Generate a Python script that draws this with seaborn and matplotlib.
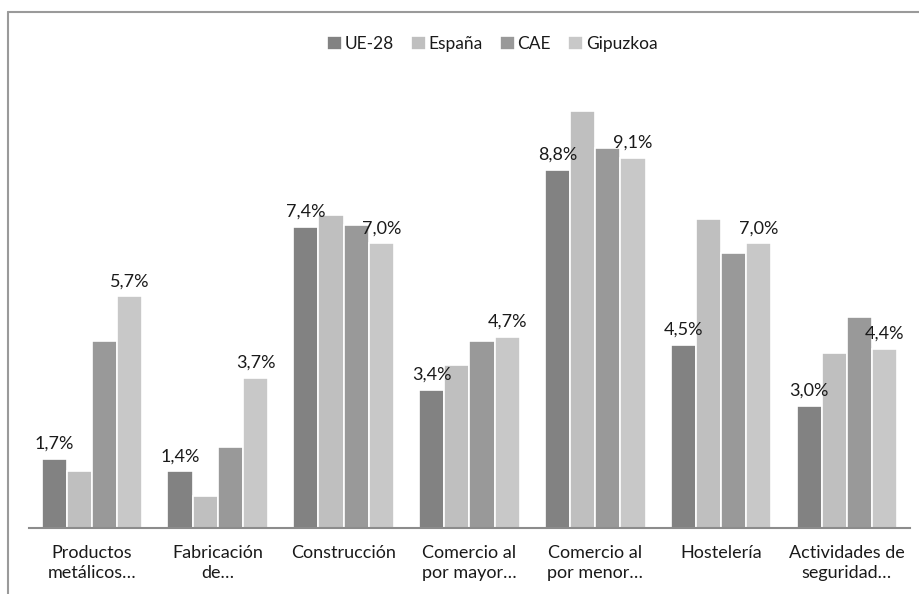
import pandas as pd
import numpy as np
import matplotlib
matplotlib.use('Agg')
import matplotlib.pyplot as plt
from matplotlib.lines import Line2D
import seaborn as sns

# datos (en %)
sectores = ['Productos\nmetálicos…', 'Fabricación\nde…', 'Construcción', 'Comercio al\npor mayor…',
            'Comercio al\npor menor…', 'Hostelería', 'Actividades de\nseguridad…']
series = ['UE-28', 'España', 'CAE', 'Gipuzkoa']
ue28 = [1.7, 1.4, 7.4, 3.4, 8.8, 4.5, 3.0]
espana = [1.4, 0.8, 7.7, 4.0, 10.25, 7.6, 4.3]
cae = [4.6, 2.0, 7.45, 4.6, 9.35, 6.75, 5.2]
gipuzkoa = [5.7, 3.7, 7.0, 4.7, 9.1, 7.0, 4.4]
colores = ['#828282', '#bfbfbf', '#999999', '#c8c8c8']

df = pd.DataFrame({'Sector': sectores, 'UE-28': ue28, 'España': espana, 'CAE': cae, 'Gipuzkoa': gipuzkoa})
long_df = df.melt(id_vars='Sector', var_name='Serie', value_name='Valor')

sns.set_style('white')
plt.rcParams['font.family'] = ['Lato', 'DejaVu Sans']

fig = plt.figure(figsize=(9.19, 5.94), dpi=100)
ax = fig.add_axes([0.0316, 0.111, 0.9584, 0.7534])

sns.barplot(data=long_df, x='Sector', y='Valor', hue='Serie', hue_order=series, order=sectores,
            palette=colores, width=0.8, edgecolor='white', linewidth=1.2, saturation=1, ax=ax)

ax.set_ylim(0, 11)
ax.set_xlim(-0.5, len(sectores) - 0.5)
ax.set_xlabel('')
ax.set_ylabel('')
ax.set_yticks([])
sns.despine(ax=ax, left=True, top=True, right=True)
ax.spines['bottom'].set_color('#8c8c8c')
ax.spines['bottom'].set_linewidth(1.5)
ax.tick_params(axis='x', length=0, pad=12, labelsize=13, colors='#1a1a1a')
for t in ax.get_xticklabels():
    t.set_linespacing(1.35)

# etiquetas solo para UE-28 y Gipuzkoa
for cont, nombre in zip(ax.containers, series):
    if nombre in ('UE-28', 'Gipuzkoa'):
        ax.bar_label(cont, labels=[f'{v:.1f}%'.replace('.', ',') for v in cont.datavalues],
                     padding=5, fontsize=13, color='#1a1a1a')

handles, labels = ax.get_legend_handles_labels()
ax.legend(handles, labels, loc='upper center', bbox_to_anchor=(0.526, 1.135), ncol=4, frameon=False,
          fontsize=12.5, handlelength=0.85, handleheight=0.85, handletextpad=0.15, columnspacing=1.0,
          labelcolor='#1a1a1a')

# marco del gráfico
fig.add_artist(Line2D([8 / 919, 1], [1 - 12 / 594, 1 - 12 / 594], color='#9a9a9a', lw=1.5))
fig.add_artist(Line2D([8 / 919, 8 / 919], [0, 1 - 12 / 594], color='#9a9a9a', lw=1.5))

fig.savefig('out.png', dpi=100)
